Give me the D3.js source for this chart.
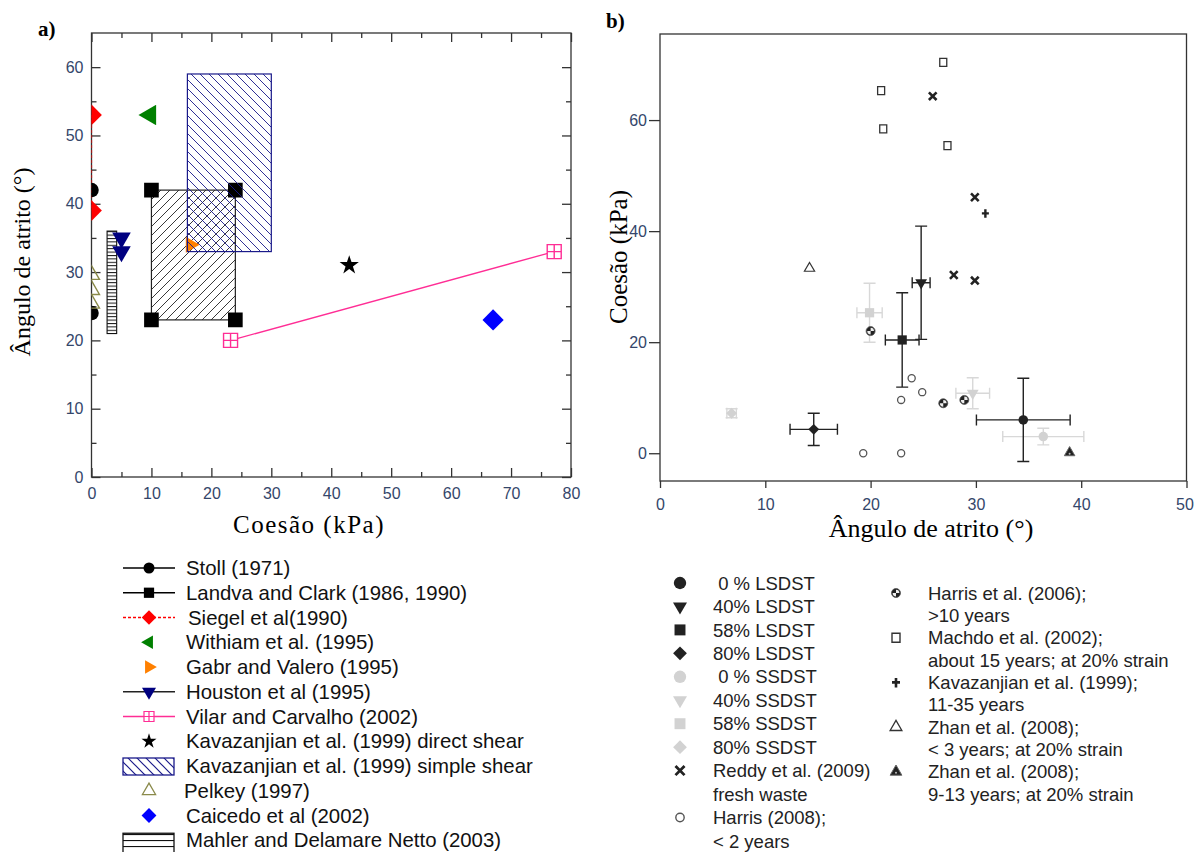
<!DOCTYPE html>
<html>
<head>
<meta charset="utf-8">
<script src="https://cdn.jsdelivr.net/npm/d3@7"></script>
<style>
  body { margin: 0; background: #fff; }
  svg { display: block; }
</style>
</head>
<body>
<svg id="chart" width="1194" height="852"></svg>
<script>
"use strict";

// ---------- panel a) : [cohesion (kPa), friction angle (deg)]
const stoll = [[0, 42], [0, 24]];
const landvaClark = [[10, 42], [24, 42], [10, 23], [24, 23]];
const siegel = [[0, 53], [0, 39]];
const withiam = [[9.8, 53]];
const gabrValero = [[16.5, 34]];
const houston = [[5, 35], [5, 33]];
const vilarCarvalho = [[23.2, 20], [77.2, 33]];
const kavDirect = [[43, 31]];
const kavSimpleC = [16, 30];
const kavSimplePhi = [33, 59];
const pelkey = [[0, 29.6], [0, 27.4], [0, 25.4]];
const caicedo = [[67, 23]];
const mahlerC = [2.6, 4.2];
const mahlerPhi = [21, 36];

const aXTicks = [0, 10, 20, 30, 40, 50, 60, 70, 80];
const aXMinor = [5, 15, 25, 35, 45, 55, 65, 75];
const aYTicks = [0, 10, 20, 30, 40, 50, 60];
const aYMinor = [5, 15, 25, 35, 45, 55];

const legendA = [
  "Stoll (1971)",
  "Landva and Clark (1986, 1990)",
  "Siegel et al(1990)",
  "Withiam et al. (1995)",
  "Gabr and Valero (1995)",
  "Houston et al (1995)",
  "Vilar and Carvalho (2002)",
  "Kavazanjian et al. (1999) direct shear",
  "Kavazanjian et al. (1999) simple shear",
  "Pelkey (1997)",
  "Caicedo et al (2002)",
  "Mahler and Delamare Netto (2003)"
];

// ---------- panel b) : friction angle (deg) vs cohesion (kPa)
const lsdstPhi = [34.5, 24.8, 23.0, 14.6];
const lsdstC = [6.0, 30.7, 20.4, 4.3];
const lsdstPhiErr = [4.45, 0.85, 1.6, 2.25];
const lsdstCErr = [7.5, 10.2, 8.5, 2.9];

const ssdstPhi = [36.4, 29.7, 19.9, 6.8];
const ssdstC = [3.0, 10.8, 25.3, 7.2];
const ssdstPhiErr = [3.85, 1.6, 1.2, 0.45];
const ssdstCErr = [1.5, 2.8, 5.3, 0.8];

const reddyPhi = [25.9, 29.9, 27.9, 29.9];
const reddyC = [64.3, 46.1, 32.1, 31.1];
const harris08Phi = [19.3, 22.9, 22.9, 23.9, 24.9];
const harris08C = [0, 0, 9.6, 13.5, 11.0];
const harris06Phi = [20.0, 26.9, 28.9];
const harris06C = [22.0, 9.0, 9.6];
const machadoPhi = [21.0, 21.2, 26.9, 27.3];
const machadoC = [65.3, 58.4, 70.4, 55.4];
const kav99Phi = [30.9];
const kav99C = [43.2];
const zhanYoungPhi = [14.2];
const zhanYoungC = [33.3];
const zhanOldPhi = [38.9];
const zhanOldC = [0.1];

const bXTicks = [0, 10, 20, 30, 40, 50];
const bYTicks = [0, 20, 40, 60];

const legendB1 = [
  ["\u00a00 % LSDST"], ["40% LSDST"], ["58% LSDST"], ["80% LSDST"],
  ["\u00a00 % SSDST"], ["40% SSDST"], ["58% SSDST"], ["80% SSDST"],
  ["Reddy et al. (2009)", "fresh waste"],
  ["Harris (2008);", "< 2 years"]
];
const legendB2 = [
  ["Harris et al. (2006);", ">10 years"],
  ["Machdo et al. (2002);", "about 15 years; at 20% strain"],
  ["Kavazanjian et al. (1999);", "11-35 years"],
  ["Zhan et al. (2008);", "< 3 years; at 20% strain"],
  ["Zhan et al. (2008);", "9-13 years; at 20% strain"]
];

// ---------- styles
const fontSans = "'Liberation Sans', Arial, sans-serif";
const fontSerif = "'Liberation Serif', 'Times New Roman', serif";
const tickColor = "#34466a";
const axisColor = "#333";
const pink = "#ff2d95";
const olive = "#8a8a4a";
const navy = "#1a1a8a";
const dark = "#222";
const light = "#d2d2d2";

const svg = d3.select("#chart");
const defs = svg.append("defs");

const sym = (type, size) => d3.symbol(type, size)();
const zip = (a, b) => a.map((v, i) => [v, b[i]]);

function hatch(id, d, w, h, color, sw) {
  defs.append("pattern")
    .attr("id", id)
    .attr("patternUnits", "userSpaceOnUse")
    .attr("width", w)
    .attr("height", h)
    .append("path")
    .attr("d", d)
    .attr("stroke", color)
    .attr("stroke-width", sw)
    .attr("fill", "none");
}
hatch("hatchLandva", "M-1,1 l2,-2 M0,9 l9,-9 M8,10 l2,-2", 9, 9, dark, 0.9);
hatch("hatchKav", "M-1,8 l2,2 M0,0 l9,9 M8,-1 l2,2", 9, 9, navy, 0.9);
hatch("hatchKavLegend", "M-1,8 l2,2 M0,0 l9,9 M8,-1 l2,2", 9, 9, navy, 1.2);
hatch("ladder", "M0,0.5 H10", 10, 3.4, "#111", 1);
hatch("ladderLegend", "M0,0.5 H10", 10, 6, "#111", 1.2);

function axis(g, gen, scale, vals, len, pad, show, tx, ty) {
  const a = g.append("g")
    .attr("transform", `translate(${tx},${ty})`)
    .call(gen(scale).tickValues(vals).tickSizeInner(len).tickSizeOuter(0)
      .tickPadding(pad).tickFormat(show ? d3.format("d") : () => ""));
  a.select(".domain").remove();
  a.selectAll("line").attr("stroke", axisColor).attr("stroke-width", 1.3);
  a.attr("font-family", fontSans).attr("font-size", 16);
  a.selectAll("text").attr("fill", tickColor);
  return a;
}

function marks(g, pts, x, y, d, rot, fill, stroke, sw) {
  g.selectAll(null)
    .data(pts)
    .join("path")
    .attr("d", d)
    .attr("transform", (p) => `translate(${x(p[0])},${y(p[1])}) rotate(${rot})`)
    .attr("fill", fill)
    .attr("stroke", stroke || "none")
    .attr("stroke-width", sw || 0);
}

function squareCross(s) {
  return `M${-s},${-s}H${s}V${s}H${-s}Z M0,${-s}V${s} M${-s},0H${s}`;
}

// ================= panel a =================
const xa = d3.scaleLinear().domain([0, 80]).range([91.5, 571]);
const ya = d3.scaleLinear().domain([0, 65]).range([477, 33]);

const ga = svg.append("g");

defs.append("clipPath").attr("id", "clipA")
  .append("rect")
  .attr("x", xa(0)).attr("y", ya(65))
  .attr("width", xa(80) - xa(0)).attr("height", ya(0) - ya(65));

axis(ga, d3.axisBottom, xa, aXTicks, -9, 11, true, 0, ya(0));
axis(ga, d3.axisBottom, xa, aXMinor, -5, 0, false, 0, ya(0));
axis(ga, d3.axisTop, xa, aXTicks, -9, 0, false, 0, ya(65));
axis(ga, d3.axisTop, xa, aXMinor, -5, 0, false, 0, ya(65));
axis(ga, d3.axisLeft, ya, aYTicks, -9, 8, true, xa(0), 0);
axis(ga, d3.axisLeft, ya, aYMinor, -5, 0, false, xa(0), 0);
axis(ga, d3.axisRight, ya, aYTicks, -9, 0, false, xa(80), 0);
axis(ga, d3.axisRight, ya, aYMinor, -5, 0, false, xa(80), 0);

ga.append("rect")
  .attr("x", xa(0)).attr("y", ya(65))
  .attr("width", xa(80) - xa(0)).attr("height", ya(0) - ya(65))
  .attr("fill", "none").attr("stroke", axisColor).attr("stroke-width", 1.3);

const pa = ga.append("g").attr("clip-path", "url(#clipA)");
const lineA = d3.line().x((d) => xa(d[0])).y((d) => ya(d[1]));

// Landva and Clark envelope
const lcC = d3.extent(landvaClark, (d) => d[0]);
const lcPhi = d3.extent(landvaClark, (d) => d[1]);
pa.append("rect")
  .attr("x", xa(lcC[0])).attr("y", ya(lcPhi[1]))
  .attr("width", xa(lcC[1]) - xa(lcC[0])).attr("height", ya(lcPhi[0]) - ya(lcPhi[1]))
  .attr("fill", "url(#hatchLandva)").attr("stroke", dark).attr("stroke-width", 1.2);

// Mahler and Delamare Netto
pa.append("rect")
  .attr("x", xa(mahlerC[0])).attr("y", ya(mahlerPhi[1]))
  .attr("width", xa(mahlerC[1]) - xa(mahlerC[0])).attr("height", ya(mahlerPhi[0]) - ya(mahlerPhi[1]))
  .attr("fill", "url(#ladder)").attr("stroke", "#111").attr("stroke-width", 1.1);

marks(pa, landvaClark, xa, ya, sym(d3.symbolSquare, 215), 0, "#000");
marks(pa, gabrValero, xa, ya, sym(d3.symbolTriangle, 110), 90, "#ff8000");

// Kavazanjian simple shear
pa.append("rect")
  .attr("x", xa(kavSimpleC[0])).attr("y", ya(kavSimplePhi[1]))
  .attr("width", xa(kavSimpleC[1]) - xa(kavSimpleC[0])).attr("height", ya(kavSimplePhi[0]) - ya(kavSimplePhi[1]))
  .attr("fill", "url(#hatchKav)").attr("stroke", navy).attr("stroke-width", 1.2);

pa.append("path").datum(siegel).attr("d", lineA)
  .attr("stroke", "red").attr("stroke-dasharray", "3,2").attr("stroke-width", 1.2).attr("fill", "none");
pa.append("path").datum(houston).attr("d", lineA)
  .attr("stroke", "#000").attr("stroke-width", 1).attr("fill", "none");
pa.append("path").datum(vilarCarvalho).attr("d", lineA)
  .attr("stroke", pink).attr("stroke-width", 1.3).attr("fill", "none");

marks(pa, stoll, xa, ya, sym(d3.symbolCircle, 165), 0, "#000");
marks(pa, siegel, xa, ya, sym(d3.symbolSquare, 215), 45, "red");
marks(pa, withiam, xa, ya, sym(d3.symbolTriangle, 180), -90, "#008000");
marks(pa, houston, xa, ya, sym(d3.symbolTriangle, 150), 180, "#000080");
marks(pa, vilarCarvalho, xa, ya, squareCross(7), 0, "#fff", pink, 1.4);
marks(pa, kavDirect, xa, ya, sym(d3.symbolStar, 115), 0, "#000");
marks(pa, pelkey, xa, ya, sym(d3.symbolTriangle, 110), 0, "none", olive, 1.4);
marks(pa, caicedo, xa, ya, sym(d3.symbolSquare, 225), 45, "#0000ff");

// titles
ga.append("text").text("a)")
  .attr("x", 38).attr("y", 36)
  .attr("font-family", fontSerif).attr("font-weight", "bold").attr("font-size", 21);
ga.append("text").text("Ângulo de atrito (°)")
  .attr("transform", "translate(30,262) rotate(-90)")
  .attr("text-anchor", "middle")
  .attr("font-family", fontSerif).attr("font-size", 24);
ga.append("text").text("Coesão (kPa)")
  .attr("x", 309).attr("y", 533)
  .attr("text-anchor", "middle")
  .attr("letter-spacing", 1.5)
  .attr("font-family", fontSerif).attr("font-size", 25);

// legend a
const lgA = svg.append("g").attr("font-family", fontSans).attr("font-size", 20.4);
const lgY = (i) => 568 + 24.75 * i;
const lx0 = 123, lx1 = 175, lxm = 149;

function legLine(i, color, dash) {
  lgA.append("line")
    .attr("x1", lx0).attr("x2", lx1).attr("y1", lgY(i)).attr("y2", lgY(i))
    .attr("stroke", color).attr("stroke-width", 1.3)
    .attr("stroke-dasharray", dash || null);
}
function legMark(i, d, rot, fill, stroke, sw) {
  lgA.append("path")
    .attr("d", d)
    .attr("transform", `translate(${lxm},${lgY(i)}) rotate(${rot})`)
    .attr("fill", fill).attr("stroke", stroke || "none").attr("stroke-width", sw || 0);
}
function legRect(i, fill, stroke) {
  lgA.append("rect")
    .attr("x", lx0).attr("y", lgY(i) - 8).attr("width", lx1 - lx0 - 1).attr("height", 17)
    .attr("fill", fill).attr("stroke", stroke).attr("stroke-width", 1.3);
}

legLine(0, "#000"); legMark(0, sym(d3.symbolCircle, 95), 0, "#000");
legLine(1, "#000"); legMark(1, sym(d3.symbolSquare, 105), 0, "#000");
legLine(2, "red", "3,2"); legMark(2, sym(d3.symbolSquare, 105), 45, "red");
legMark(3, sym(d3.symbolTriangle, 80), -90, "#008000");
legMark(4, sym(d3.symbolTriangle, 80), 90, "#ff8000");
legLine(5, "#222"); legMark(5, sym(d3.symbolTriangle, 85), 180, "#000080");
legLine(6, pink); legMark(6, squareCross(5), 0, "#fff", pink, 1.2);
legMark(7, sym(d3.symbolStar, 70), 0, "#000");
legRect(8, "url(#hatchKavLegend)", navy);
legMark(9, sym(d3.symbolTriangle, 75), 0, "none", olive, 1.3);
legMark(10, sym(d3.symbolSquare, 110), 45, "#0000ff");
lgA.append("rect")
  .attr("x", lx0).attr("y", lgY(11) - 7).attr("width", lx1 - lx0 - 1).attr("height", 24)
  .attr("fill", "url(#ladderLegend)").attr("stroke", "#111").attr("stroke-width", 1.3);

lgA.selectAll("text.lab")
  .data(legendA)
  .join("text")
  .attr("class", "lab")
  .attr("x", (d, i) => (i === 2 ? 188 : i === 9 ? 184 : 186))
  .attr("y", (d, i) => lgY(i))
  .attr("dy", "0.35em")
  .attr("fill", "#111")
  .text((d) => d);

// ================= panel b =================
const xb = d3.scaleLinear().domain([0, 50]).range([660, 1186.5]);
const yb = d3.scaleLinear().domain([-5, 75.5]).range([481, 34]);

const gb = svg.append("g");
axis(gb, d3.axisLeft, yb, bYTicks, 11, 2, true, xb(0), 0);
const bx = axis(gb, d3.axisBottom, xb, bXTicks, 7, 11, true, 0, yb(-5));
// keep the last label inside the page edge
bx.selectAll("text").filter((d) => d === 50).attr("dx", -2);
gb.append("rect")
  .attr("x", xb(0)).attr("y", yb(75.5))
  .attr("width", xb(50) - xb(0)).attr("height", yb(-5) - yb(75.5))
  .attr("fill", "none").attr("stroke", axisColor).attr("stroke-width", 1.3);

function errBars(g, xs, ys, xe, ye, color) {
  xs.forEach((v, i) => {
    const cx = xb(v), cy = yb(ys[i]);
    let d = "";
    if (xe[i] > 0) {
      const l = xb(v - xe[i]), r = xb(v + xe[i]);
      d += `M${l},${cy}H${r}M${l},${cy - 5.5}V${cy + 5.5}M${r},${cy - 5.5}V${cy + 5.5}`;
    }
    if (ye[i] > 0) {
      const t = yb(ys[i] + ye[i]), b = yb(ys[i] - ye[i]);
      d += `M${cx},${t}V${b}M${cx - 6},${t}H${cx + 6}M${cx - 6},${b}H${cx + 6}`;
    }
    if (d) {
      g.append("path").attr("d", d).attr("stroke", color).attr("stroke-width", 1.4).attr("fill", "none");
    }
  });
}

const shapeB = [
  { d: sym(d3.symbolCircle, 72), rot: 0 },
  { d: sym(d3.symbolTriangle, 60), rot: 180 },
  { d: sym(d3.symbolSquare, 85), rot: 0 },
  { d: sym(d3.symbolSquare, 60), rot: 45 }
];
const shapeBLeg = [
  { d: sym(d3.symbolCircle, 120), rot: 0 },
  { d: sym(d3.symbolTriangle, 85), rot: 180 },
  { d: sym(d3.symbolSquare, 120), rot: 0 },
  { d: sym(d3.symbolSquare, 95), rot: 45 }
];

function harrisMark(g, cx, cy, r) {
  const m = g.append("g").attr("transform", `translate(${cx},${cy})`);
  m.append("circle").attr("r", r).attr("fill", dark).attr("stroke", "#555").attr("stroke-width", 0.8);
  const arc = d3.arc().innerRadius(0).outerRadius(r * 0.75);
  m.append("path").attr("d", arc({ startAngle: 0, endAngle: Math.PI / 2 })).attr("fill", "#eee");
  m.append("path").attr("d", arc({ startAngle: Math.PI, endAngle: Math.PI * 1.5 })).attr("fill", "#eee");
}
function zhanOldMark(g, cx, cy, s) {
  g.append("path").attr("d", sym(d3.symbolTriangle, s))
    .attr("transform", `translate(${cx},${cy})`)
    .attr("fill", dark).attr("stroke", "#666").attr("stroke-width", 1);
  g.append("circle").attr("cx", cx).attr("cy", cy + 1).attr("r", 1).attr("fill", "#bbb");
}

const pb = gb.append("g");
errBars(pb, ssdstPhi, ssdstC, ssdstPhiErr, ssdstCErr, "#d8d8d8");
ssdstPhi.forEach((v, i) => {
  pb.append("path").attr("d", shapeB[i].d)
    .attr("transform", `translate(${xb(v)},${yb(ssdstC[i])}) rotate(${shapeB[i].rot})`)
    .attr("fill", light);
});

marks(pb, zip(harris08Phi, harris08C), xb, yb, sym(d3.symbolCircle, 40), 0, "#fff", "#555", 1.3);
marks(pb, zip(machadoPhi, machadoC), xb, yb, "M-3.5,-4H3.5V4H-3.5Z", 0, "#fff", "#333", 1.3);
marks(pb, zip(zhanYoungPhi, zhanYoungC), xb, yb, sym(d3.symbolTriangle, 45), 0, "#fff", "#333", 1.2);
marks(pb, zip(reddyPhi, reddyC), xb, yb, sym(d3.symbolTimes, 40), 0, "none", dark, 2.6);
marks(pb, zip(kav99Phi, kav99C), xb, yb, "M-3.5,0H3.5M0,-4V4.5", 0, "none", dark, 2.4);
harris06Phi.forEach((v, i) => harrisMark(pb, xb(v), yb(harris06C[i]), 4.5));
zhanOldMark(pb, xb(zhanOldPhi[0]), yb(zhanOldC[0]), 48);

errBars(pb, lsdstPhi, lsdstC, lsdstPhiErr, lsdstCErr, dark);
lsdstPhi.forEach((v, i) => {
  pb.append("path").attr("d", shapeB[i].d)
    .attr("transform", `translate(${xb(v)},${yb(lsdstC[i])}) rotate(${shapeB[i].rot})`)
    .attr("fill", dark);
});

gb.append("text").text("b)")
  .attr("x", 606).attr("y", 28)
  .attr("font-family", fontSerif).attr("font-weight", "bold").attr("font-size", 21);
gb.append("text").text("Coesão (kPa)")
  .attr("transform", "translate(627,257) rotate(-90)")
  .attr("text-anchor", "middle")
  .attr("font-family", fontSerif).attr("font-size", 25);
gb.append("text").text("Ângulo de atrito (°)")
  .attr("x", 931).attr("y", 537)
  .attr("text-anchor", "middle")
  .attr("font-family", fontSerif).attr("font-size", 26);

// legend b
const lgB = svg.append("g").attr("font-family", fontSans).attr("font-size", 18.5).attr("fill", "#222");
const b1Y = (k) => 583 + 23.45 * k;
const b2Y = (k) => 593 + 22.35 * k;

let k = 0;
legendB1.forEach((lines, i) => {
  const y = b1Y(k);
  if (i < 8) {
    const s = shapeBLeg[i % 4];
    lgB.append("path").attr("d", s.d)
      .attr("transform", `translate(680,${y}) rotate(${s.rot})`)
      .attr("fill", i < 4 ? dark : light);
  } else if (i === 8) {
    lgB.append("path").attr("d", sym(d3.symbolTimes, 55))
      .attr("transform", `translate(680,${y})`)
      .attr("fill", "none").attr("stroke", dark).attr("stroke-width", 2.8);
  } else {
    lgB.append("path").attr("d", sym(d3.symbolCircle, 55))
      .attr("transform", `translate(680,${y})`)
      .attr("fill", "#fff").attr("stroke", "#555").attr("stroke-width", 1.4);
  }
  lines.forEach((t) => {
    lgB.append("text").attr("x", 713).attr("y", b1Y(k)).attr("dy", "0.36em").text(t);
    k += 1;
  });
});

k = 0;
legendB2.forEach((lines, i) => {
  const y = b2Y(k), mx = 896;
  if (i === 0) {
    harrisMark(lgB, mx, y, 4.5);
  } else if (i === 1) {
    lgB.append("path").attr("d", "M-4,-4.5H4V4.5H-4Z").attr("transform", `translate(${mx},${y})`)
      .attr("fill", "#fff").attr("stroke", "#333").attr("stroke-width", 1.4);
  } else if (i === 2) {
    lgB.append("path").attr("d", "M-4,0H4M0,-4.5V5").attr("transform", `translate(${mx},${y})`)
      .attr("fill", "none").attr("stroke", dark).attr("stroke-width", 2.6);
  } else if (i === 3) {
    lgB.append("path").attr("d", sym(d3.symbolTriangle, 60)).attr("transform", `translate(${mx},${y})`)
      .attr("fill", "#fff").attr("stroke", "#333").attr("stroke-width", 1.3);
  } else {
    zhanOldMark(lgB, mx, y, 60);
  }
  lines.forEach((t) => {
    lgB.append("text").attr("x", 928).attr("y", b2Y(k)).attr("dy", "0.36em").text(t);
    k += 1;
  });
});
</script>
</body>
</html>
